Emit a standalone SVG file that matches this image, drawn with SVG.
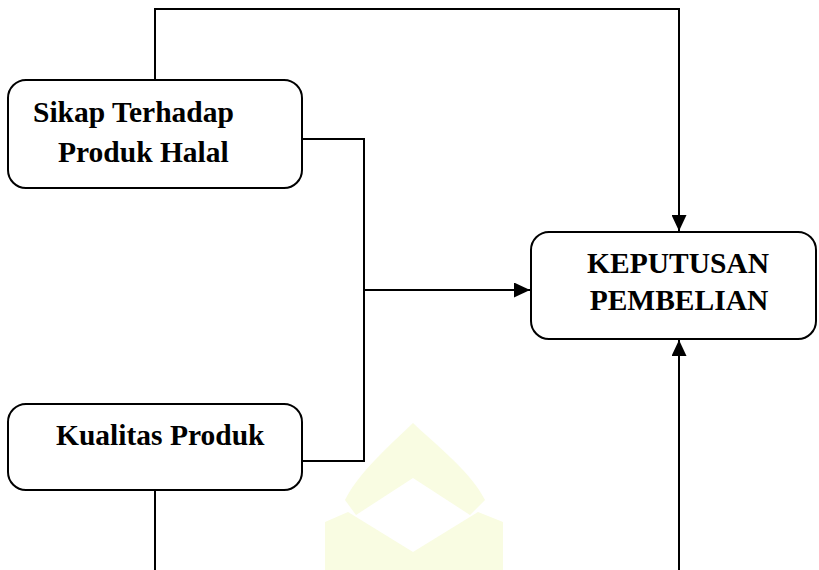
<svg xmlns="http://www.w3.org/2000/svg" width="819" height="570" viewBox="0 0 819 570">
<style>
.box{fill:#fff;stroke:#000;stroke-width:2}
.lbl{font-family:"Liberation Serif","Times New Roman",serif;font-weight:bold;font-size:29.5px;fill:#000}
.ln{fill:none;stroke:#000;stroke-width:2}
.wm{fill:#f9fce2;stroke:none}
</style>
<defs>
<marker id="ah" markerUnits="userSpaceOnUse" markerWidth="17" markerHeight="15" refX="16" refY="7.5" orient="auto">
<path d="M0,0 L16,7.5 L0,15 Z" fill="#000"/>
</marker>
</defs>
<g id="watermark">
<path class="wm" d="M413,423 C430,440 470,470 485,500 L470,515 L413,478 L356,515 L345,500 C360,470 396,440 413,423 Z"/>
<path class="wm" d="M325,522 L348,512 L413,552 L478,512 L503,522 L503,570 L325,570 Z"/>
<circle cx="413" cy="495" r="7" fill="#fff"/>
</g>
<g id="connectors">
<path class="ln" d="M155,80 V9 H679 V231" marker-end="url(#ah)"/>
<path class="ln" d="M302,139 H364 V461 H302"/>
<path class="ln" d="M364,290 H530" marker-end="url(#ah)"/>
<path class="ln" d="M679,570 V340" marker-end="url(#ah)"/>
<path class="ln" d="M155,490 V570"/>
</g>
<g id="node-sikap">
<rect class="box" x="8" y="80" width="294" height="108" rx="18"/>
<text class="lbl" x="33" y="122">Sikap Terhadap</text>
<text class="lbl" x="58" y="162">Produk Halal</text>
</g>
<g id="node-kualitas">
<rect class="box" x="8" y="404" width="294" height="86" rx="18"/>
<text class="lbl" x="56" y="445">Kualitas Produk</text>
</g>
<g id="node-keputusan">
<rect class="box" x="531" y="232" width="285" height="107" rx="18"/>
<text class="lbl" x="678" y="273" text-anchor="middle">KEPUTUSAN</text>
<text class="lbl" x="679" y="310" text-anchor="middle">PEMBELIAN</text>
</g>
</svg>
